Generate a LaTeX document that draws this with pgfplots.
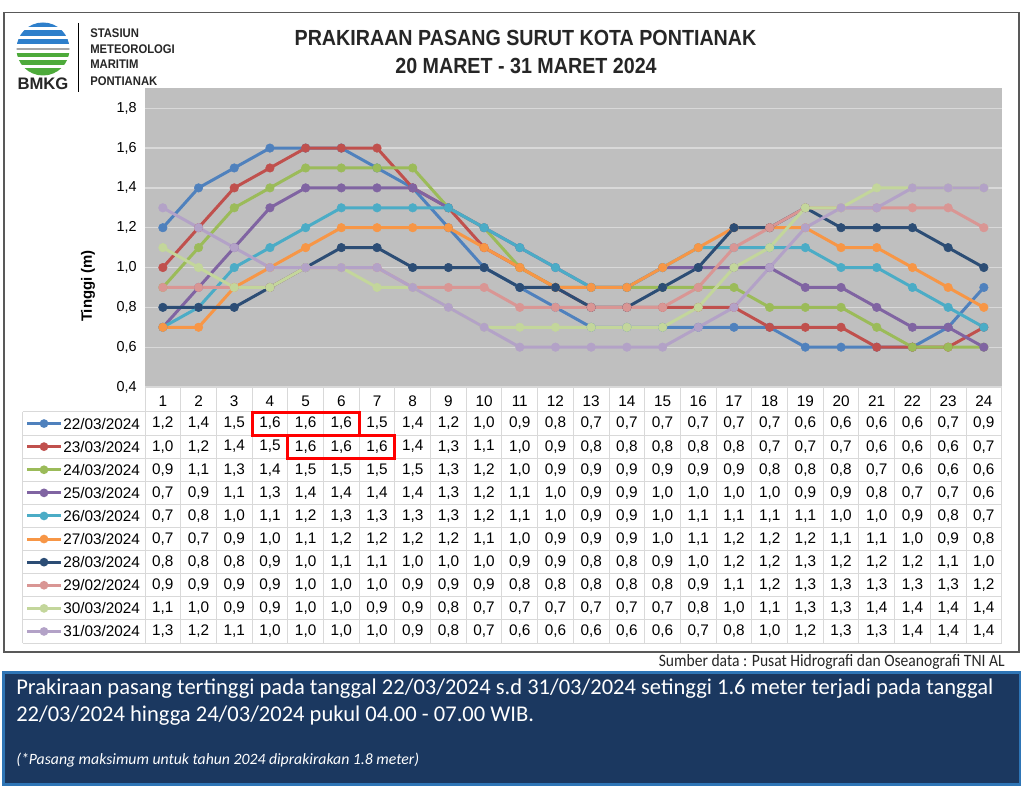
\documentclass[border=0pt]{standalone}
\usepackage{fontspec}
\setmainfont{Liberation Sans}
\newfontfamily\narrowfont[FakeStretch=0.9]{Liberation Sans}
\newfontfamily\calibri{Carlito}
\newfontfamily\calibrinarrow[FakeStretch=0.9]{Carlito}
\usepackage{pgfplots}
\usepackage{pgfplotstable}
\pgfplotsset{compat=1.18}

\definecolor{c1}{HTML}{4F81BD}
\definecolor{c2}{HTML}{C0504D}
\definecolor{c3}{HTML}{9BBB59}
\definecolor{c4}{HTML}{8064A2}
\definecolor{c5}{HTML}{4BACC6}
\definecolor{c6}{HTML}{F79646}
\definecolor{c7}{HTML}{2C4D75}
\definecolor{c8}{HTML}{D99694}
\definecolor{c9}{HTML}{C3D69B}
\definecolor{c10}{HTML}{B3A2C7}
\definecolor{plotbg}{HTML}{BFBFBF}
\definecolor{gridc}{HTML}{D9D9D9}
\definecolor{tablegrid}{HTML}{D9D9D9}
\definecolor{framec}{HTML}{595959}
\definecolor{navy}{HTML}{1B3860}
\definecolor{navyborder}{HTML}{2E75B6}
\definecolor{logoblue}{HTML}{2E7FCB}
\definecolor{logogreen}{HTML}{4DAA3A}
\definecolor{darktext}{HTML}{262626}

\newcommand\tabfont{\fontsize{11.5}{13}\selectfont}

% hour, then series: 22/03 23/03 24/03 25/03 26/03 27/03 28/03 29/02 30/03 31/03
\pgfplotstableread{
h a b c d e f g k l m
1 1.2 1.0 0.9 0.7 0.7 0.7 0.8 0.9 1.1 1.3
2 1.4 1.2 1.1 0.9 0.8 0.7 0.8 0.9 1.0 1.2
3 1.5 1.4 1.3 1.1 1.0 0.9 0.8 0.9 0.9 1.1
4 1.6 1.5 1.4 1.3 1.1 1.0 0.9 0.9 0.9 1.0
5 1.6 1.6 1.5 1.4 1.2 1.1 1.0 1.0 1.0 1.0
6 1.6 1.6 1.5 1.4 1.3 1.2 1.1 1.0 1.0 1.0
7 1.5 1.6 1.5 1.4 1.3 1.2 1.1 1.0 0.9 1.0
8 1.4 1.4 1.5 1.4 1.3 1.2 1.0 0.9 0.9 0.9
9 1.2 1.3 1.3 1.3 1.3 1.2 1.0 0.9 0.8 0.8
10 1.0 1.1 1.2 1.2 1.2 1.1 1.0 0.9 0.7 0.7
11 0.9 1.0 1.0 1.1 1.1 1.0 0.9 0.8 0.7 0.6
12 0.8 0.9 0.9 1.0 1.0 0.9 0.9 0.8 0.7 0.6
13 0.7 0.8 0.9 0.9 0.9 0.9 0.8 0.8 0.7 0.6
14 0.7 0.8 0.9 0.9 0.9 0.9 0.8 0.8 0.7 0.6
15 0.7 0.8 0.9 1.0 1.0 1.0 0.9 0.8 0.7 0.6
16 0.7 0.8 0.9 1.0 1.1 1.1 1.0 0.9 0.8 0.7
17 0.7 0.8 0.9 1.0 1.1 1.2 1.2 1.1 1.0 0.8
18 0.7 0.7 0.8 1.0 1.1 1.2 1.2 1.2 1.1 1.0
19 0.6 0.7 0.8 0.9 1.1 1.2 1.3 1.3 1.3 1.2
20 0.6 0.7 0.8 0.9 1.0 1.1 1.2 1.3 1.3 1.3
21 0.6 0.6 0.7 0.8 1.0 1.1 1.2 1.3 1.4 1.3
22 0.6 0.6 0.6 0.7 0.9 1.0 1.2 1.3 1.4 1.4
23 0.7 0.6 0.6 0.7 0.8 0.9 1.1 1.3 1.4 1.4
24 0.9 0.7 0.6 0.6 0.7 0.8 1.0 1.2 1.4 1.4
}\tide

\pgfplotsset{tideline/.style={#1, line width=2.25pt, line join=round, mark=*, mark size=3.2pt, mark options={solid, fill=#1, draw=#1, line width=0.4pt}}}

\newcommand{\legrow}[3]{%
  \draw[#2, line width=2.25pt] (27,{412+23.1*(#1+0.5)}) -- (61,{412+23.1*(#1+0.5)});
  \fill[#2] (44,{412+23.1*(#1+0.5)}) circle (4.4);
  \node[anchor=west, inner sep=0pt, font=\tabfont] at (63,{412+23.1*(#1+0.5)}) {#3};}

\begin{document}
\begin{tikzpicture}
\begin{scope}[x=0.75pt,y=-0.75pt]
  \useasboundingbox (0,0) rectangle (1024,787);
  \fill[white] (0,0) rectangle (1024,787);
\end{scope}

\begin{axis}[
  at={(108.75pt,-290.25pt)}, anchor=south west,
  scale only axis, width=642.5pt, height=224pt,
  xmin=0.5, xmax=24.5, ymin=0.4, ymax=1.9,
  xtick={1,...,24}, ytick={0.4,0.6,0.8,1.0,1.2,1.4,1.6,1.8},
  major tick length=0pt,
  axis line style={draw=none},
  axis background/.style={fill=plotbg},
  ymajorgrids, major grid style={draw=gridc, line width=1pt},
  /pgf/number format/assume math mode=true,
  xticklabel style={font=\tabfont, anchor=north, inner sep=0pt, yshift=-6.3pt},
  yticklabel style={font=\fontsize{10.8}{12}\selectfont, anchor=east, inner sep=0pt, xshift=-6pt,
     /pgf/number format/.cd, fixed, fixed zerofill, precision=1, use comma},
  ylabel={Tinggi (m)},
  ylabel style={at={(axis description cs:-0.0665,0.338)}, anchor=center, font=\bfseries\fontsize{11.2}{13}\selectfont},
]
\addplot[tideline=c1] table[x=h, y=a]{\tide};
\addplot[tideline=c2] table[x=h, y=b]{\tide};
\addplot[tideline=c3] table[x=h, y=c]{\tide};
\addplot[tideline=c4] table[x=h, y=d]{\tide};
\addplot[tideline=c5] table[x=h, y=e]{\tide};
\addplot[tideline=c6] table[x=h, y=f]{\tide};
\addplot[tideline=c7] table[x=h, y=g]{\tide};
\addplot[tideline=c8] table[x=h, y=k]{\tide};
\addplot[tideline=c9] table[x=h, y=l]{\tide};
\addplot[tideline=c10] table[x=h, y=m]{\tide};
\end{axis}

\begin{scope}[x=0.75pt,y=-0.75pt]
  % outer frame
  \draw[framec, line width=1.1pt] (4,12.5) rectangle (1019,652);
  % logo
  \begin{scope}
    \clip (43,49) circle (26.5);
    \fill[logoblue] (15,22) rectangle (71,27.5);
    \fill[logoblue] (15,30.5) rectangle (71,36);
    \fill[logoblue] (15,39) rectangle (71,44.5);
    \fill[gray!70] (15,48) rectangle (71,50);
    \fill[logogreen] (15,53) rectangle (71,57.5);
    \fill[logogreen] (15,60.5) rectangle (71,65);
    \fill[logogreen] (15,68) rectangle (71,76);
  \end{scope}
  \node[font=\bfseries\fontsize{12.5}{14}\selectfont, text=darktext] at (43,83.5) {BMKG};
  \draw[black, line width=1.1pt] (78.5,23) -- (78.5,92);
  \begin{scope}[every node/.style={anchor=west, inner sep=0pt, text=darktext, font=\narrowfont\bfseries\fontsize{9.4}{11}\selectfont}]
    \node at (90,33) {STASIUN};
    \node at (90,49) {METEOROLOGI};
    \node at (90,64.5) {MARITIM};
    \node at (90,81) {PONTIANAK};
  \end{scope}
  % title
  \node[font=\narrowfont\bfseries\fontsize{16.4}{18}\selectfont, text=darktext] at (525.5,38) {PRAKIRAAN PASANG SURUT KOTA PONTIANAK};
  \node[font=\narrowfont\bfseries\fontsize{16.4}{18}\selectfont, text=darktext] at (526,66) {20 MARET - 31 MARET 2024};

  % data table grid
  \foreach \k in {0,...,24}
    \draw[tablegrid, line width=0.75pt] ({145+35.696*\k},387) -- ({145+35.696*\k},643);
  \draw[tablegrid, line width=0.75pt] (22.7,412) -- (22.7,643);
  \foreach \r in {0,...,10}
    \draw[tablegrid, line width=0.75pt] (22.7,{412+23.1*\r}) -- (1001.7,{412+23.1*\r});

  % legend keys and dates
  \legrow{0}{c1}{22/03/2024}
  \legrow{1}{c2}{23/03/2024}
  \legrow{2}{c3}{24/03/2024}
  \legrow{3}{c4}{25/03/2024}
  \legrow{4}{c5}{26/03/2024}
  \legrow{5}{c6}{27/03/2024}
  \legrow{6}{c7}{28/03/2024}
  \legrow{7}{c8}{29/02/2024}
  \legrow{8}{c9}{30/03/2024}
  \legrow{9}{c10}{31/03/2024}

  % values
  \foreach \col [count=\i from 0] in {a,b,c,d,e,f,g,k,l,m} {
    \foreach \r in {0,...,23} {
      \pgfplotstablegetelem{\r}{\col}\of\tide
      \node[font=\tabfont, inner sep=0pt] at ({145+35.696*(\r+0.5)},{412+23.1*(\i+0.5)})
        {\pgfmathprintnumber[fixed, fixed zerofill, precision=1, use comma, assume math mode=true]{\pgfplotsretval}};
    }
  }

  % highlight boxes
  \draw[red, line width=2.2pt] ({145+35.696*3},412.5) rectangle ({145+35.696*6},435.3);
  \draw[red, line width=2.2pt] ({145+35.696*4},435.9) rectangle ({145+35.696*7},458.6);

  % source
  \node[anchor=base east, inner sep=0pt, font=\calibrinarrow\fontsize{13}{14}\selectfont, text=darktext] at (1005,666) {Sumber data : Pusat Hidrografi dan Oseanografi TNI AL};

  % info box
  \draw[navyborder, line width=1.6pt, fill=navy] (3.5,672.5) rectangle (1020,784.5);
  \node[anchor=base west, inner sep=0pt, text=white, font=\calibri\fontsize{16.9}{19}\selectfont] at (16,694)
    {Prakiraan pasang tertinggi pada tanggal 22/03/2024 s.d 31/03/2024 setinggi 1.6 meter terjadi pada tanggal};
  \node[anchor=base west, inner sep=0pt, text=white, font=\calibri\fontsize{16.9}{19}\selectfont] at (16,721)
    {22/03/2024 hingga 24/03/2024 pukul 04.00 - 07.00 WIB.};
  \node[anchor=base west, inner sep=0pt, text=white, font=\calibri\itshape\fontsize{11.8}{13}\selectfont] at (16,764)
    {(*Pasang maksimum untuk tahun 2024 diprakirakan 1.8 meter)};
\end{scope}
\end{tikzpicture}
\end{document}
